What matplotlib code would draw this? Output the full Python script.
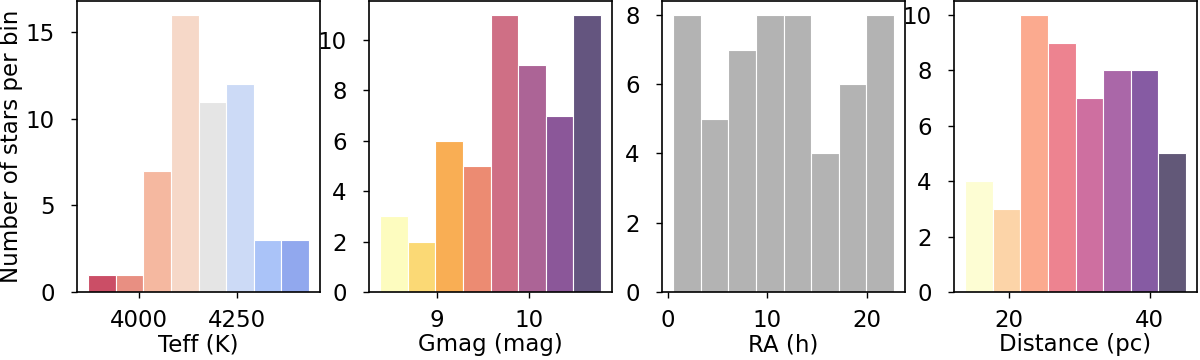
import matplotlib.pyplot as plt
import numpy as np

# histogram bin edges and counts
teff_edges = [3872, 3942, 4012, 4082, 4152, 4222, 4292, 4362, 4432]
teff_counts = [1, 1, 7, 16, 11, 12, 3, 3]

gmag_edges = [8.38, 8.68, 8.98, 9.28, 9.58, 9.88, 10.18, 10.48, 10.78]
gmag_counts = [3, 2, 6, 5, 11, 9, 7, 11]

ra_edges = [0.51, 3.29, 6.07, 8.85, 11.63, 14.41, 17.19, 19.97, 22.75]
ra_counts = [8, 5, 7, 8, 8, 4, 6, 8]

dist_edges = [13.78, 17.70, 21.62, 25.54, 29.46, 33.38, 37.30, 41.22, 45.14]
dist_counts = [4, 3, 10, 9, 7, 8, 8, 5]

teff_colors = ['#cb4e66', '#e88f82', '#f5b8a0', '#f6d8c8',
               '#e5e5e5', '#ccdaf6', '#aac3f8', '#91a8ee']
gmag_colors = ['#fdfcbf', '#fbd975', '#f9ae54', '#ec8b72',
               '#cf6f85', '#ac6496', '#8b5799', '#64557f']
ra_colors = ['#b3b3b3'] * 8
dist_colors = ['#fdfdd3', '#fcd4a8', '#fbaa8f', '#ed8390',
               '#ce6fa0', '#aa67a8', '#865ba3', '#625878']

panels = [
    (teff_edges, teff_counts, teff_colors, 'Teff (K)', [4000, 4250], [0, 5, 10, 15]),
    (gmag_edges, gmag_counts, gmag_colors, 'Gmag (mag)', [9, 10], [0, 2, 4, 6, 8, 10]),
    (ra_edges, ra_counts, ra_colors, 'RA (h)', [0, 10, 20], [0, 2, 4, 6, 8]),
    (dist_edges, dist_counts, dist_colors, 'Distance (pc)', [20, 40], [0, 2, 4, 6, 8, 10]),
]

plt.rcParams['font.family'] = ['DejaVu Sans']
fig = plt.figure(figsize=(12, 3.6), dpi=100)
lefts = [0.0642, 0.3075, 0.5517, 0.795]

for left, (edges, counts, colors, xlabel, xt, yt) in zip(lefts, panels):
    ax = fig.add_axes([left, 0.189, 0.2025, 0.808])
    edges = np.array(edges)
    ax.bar(edges[:-1], counts, width=np.diff(edges), align='edge',
           color=colors, edgecolor='white', linewidth=0.8)
    ax.set_xticks(xt)
    ax.set_yticks(yt)
    ax.tick_params(labelsize=16.5, length=4, width=1)
    ax.tick_params(axis='x', pad=8)
    ax.tick_params(axis='y', pad=12)
    ax.set_xlabel(xlabel, fontsize=16.5, labelpad=1)
    for s in ax.spines.values():
        s.set_linewidth(1.2)

fig.axes[0].set_ylabel('Number of stars per bin', fontsize=16.5, labelpad=2)
fig.savefig('out.png', dpi=100)
